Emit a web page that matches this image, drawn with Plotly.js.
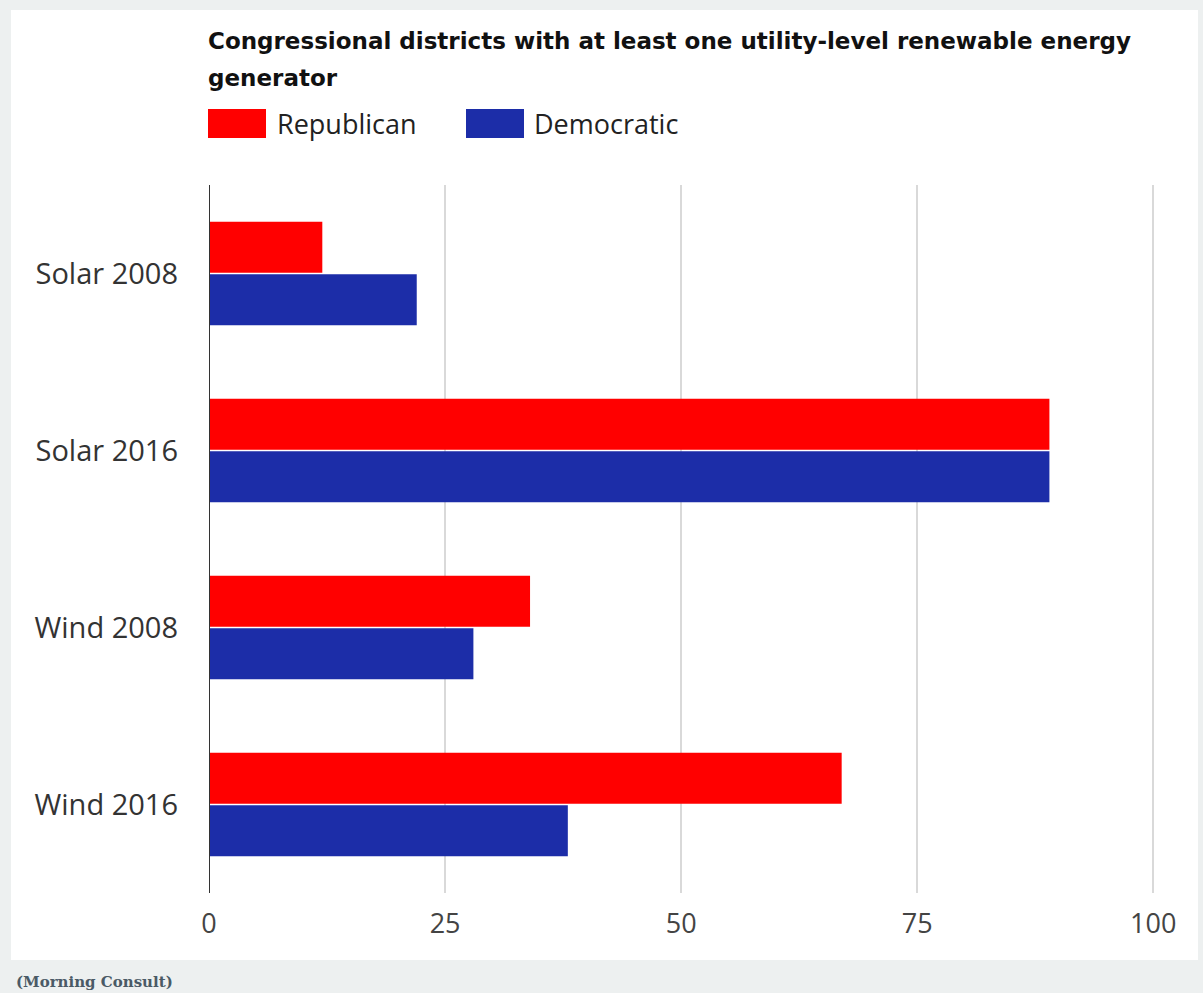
<!DOCTYPE html>
<html>
<head>
<meta charset="utf-8">
<script src="https://cdn.plot.ly/plotly-3.0.1.min.js"></script>
<style>html,body{margin:0;padding:0;background:#edf0f0;}#chart{width:1203px;height:993px;}</style>
</head>
<body>
<div id="chart"></div>
<script>
const categories = ["Solar 2008", "Solar 2016", "Wind 2008", "Wind 2016"];
const seriesNames = ["Republican", "Democratic"];
const republican = [12, 89, 34, 67];
const democratic = [22, 89, 28, 38];
const xTicks = [0, 25, 50, 75, 100];
const titleLines = ["Congressional districts with at least one utility-level renewable energy", "generator"];
const sourceText = "(Morning Consult)";

const RED = "#ff0000";
const BLUE = "#1c2da8";
const FONT = "'Open Sans', 'Noto Sans', sans-serif";
const TITLE_FONT = "'DejaVu Sans', 'Open Sans', sans-serif";

const traces = [
  {type: "bar", orientation: "h", name: seriesNames[0], y: categories, x: republican,
   marker: {color: RED}, hoverinfo: "x+name"},
  {type: "bar", orientation: "h", name: seriesNames[1], y: categories, x: democratic,
   marker: {color: BLUE}, hoverinfo: "x+name"}
];

// layout helpers (pixel -> paper)
const XMAX = 100.5;
const L = 209, T = 185, B = 100, W = 1203, H = 993;
const pw = Math.round(944 * XMAX / 100), R = W - L - pw;
const ph = H - T - B;
const px = v => (v - L) / pw;
const py = v => (H - B - v) / ph;

const layout = {
  width: W, height: H,
  margin: {l: L, r: R, t: T, b: B, pad: 0},
  paper_bgcolor: "#edf0f0",
  plot_bgcolor: "rgba(0,0,0,0)",
  showlegend: false,
  barmode: "group",
  bargap: 0.405,
  bargroupgap: 0.03,
  font: {family: FONT, color: "#333333"},
  xaxis: {
    range: [0, XMAX], tickvals: xTicks, ticktext: xTicks.map(String),
    showgrid: true, gridcolor: "#d9d9d9", gridwidth: 2,
    zeroline: false, showline: false, ticks: "",
    ticklabelstandoff: 12,
    tickfont: {size: 27, family: FONT, color: "#444444"},
    fixedrange: true
  },
  yaxis: {
    autorange: "reversed", showgrid: false, zeroline: false, showline: false,
    ticks: "", ticklabelstandoff: 30,
    tickfont: {size: 29, family: FONT, color: "#333333"},
    fixedrange: true
  },
  shapes: [
    {type: "rect", xref: "paper", yref: "paper", layer: "below",
     x0: px(11), x1: px(1198), y0: py(960), y1: py(10),
     fillcolor: "#ffffff", line: {width: 0}},
    {type: "line", xref: "x", yref: "paper", layer: "above",
     x0: 0, x1: 0, y0: 0, y1: 1, line: {color: "#333333", width: 2}},
    {type: "rect", xref: "paper", yref: "paper",
     x0: px(208), x1: px(266), y0: py(138), y1: py(109),
     fillcolor: RED, line: {width: 0}},
    {type: "rect", xref: "paper", yref: "paper",
     x0: px(466), x1: px(524), y0: py(138), y1: py(109),
     fillcolor: BLUE, line: {width: 0}}
  ],
  annotations: [
    {xref: "paper", yref: "paper", x: px(206), y: py(41), xanchor: "left", yanchor: "middle",
     align: "left", showarrow: false, text: "<b>" + titleLines[0] + "</b>",
     font: {size: 23, family: TITLE_FONT, color: "#111111"}},
    {xref: "paper", yref: "paper", x: px(206), y: py(78), xanchor: "left", yanchor: "middle",
     align: "left", showarrow: false, text: "<b>" + titleLines[1] + "</b>",
     font: {size: 23, family: TITLE_FONT, color: "#111111"}},
    {xref: "paper", yref: "paper", x: px(275), y: py(124), xanchor: "left", yanchor: "middle",
     showarrow: false, text: seriesNames[0], font: {size: 27, family: FONT, color: "#222222"}},
    {xref: "paper", yref: "paper", x: px(532), y: py(124), xanchor: "left", yanchor: "middle",
     showarrow: false, text: seriesNames[1], font: {size: 27, family: FONT, color: "#222222"}},
    {xref: "paper", yref: "paper", x: px(14), y: py(982), xanchor: "left", yanchor: "middle",
     showarrow: false, text: "<b>" + sourceText + "</b>",
     font: {size: 15, family: "'DejaVu Serif', Georgia, serif", color: "#4a5a66"}}
  ]
};

Plotly.newPlot("chart", traces, layout, {displayModeBar: false, staticPlot: true});
</script>
</body>
</html>
